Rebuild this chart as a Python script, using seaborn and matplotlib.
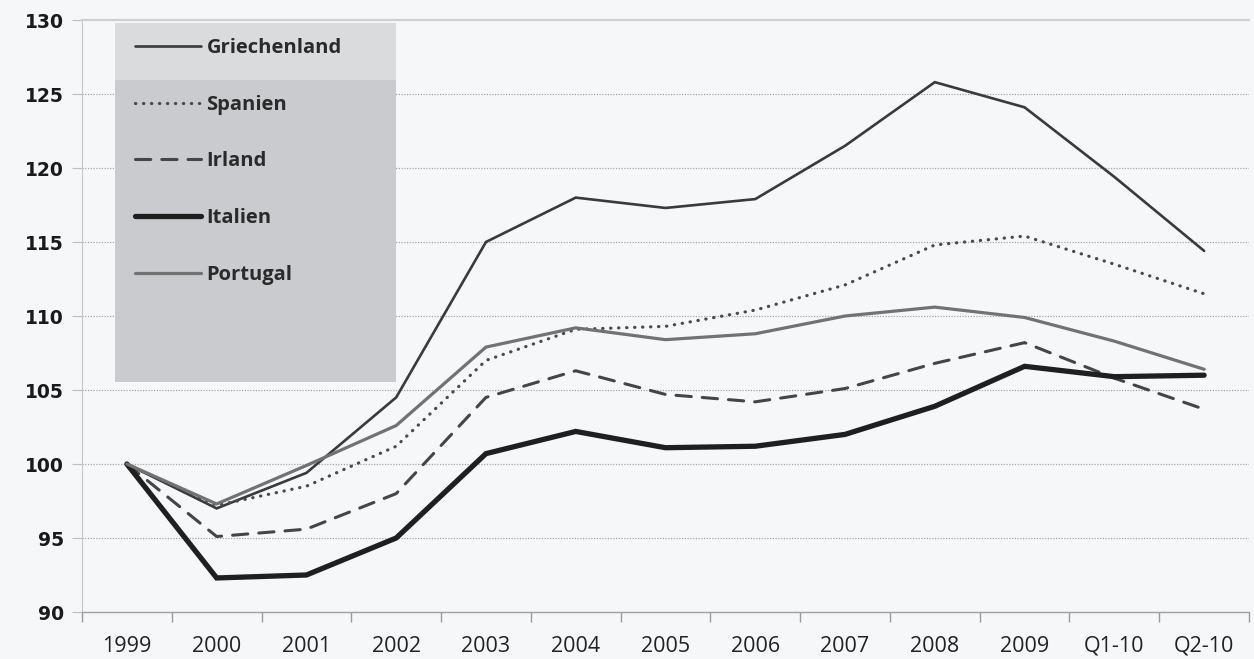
import numpy as np
import pandas as pd
import seaborn as sns
import matplotlib
matplotlib.use("Agg")
import matplotlib.pyplot as plt
from matplotlib.patches import Rectangle

# Index 1999 = 100
periods = ["1999", "2000", "2001", "2002", "2003", "2004", "2005",
           "2006", "2007", "2008", "2009", "Q1-10", "Q2-10"]
griechenland = [100.0, 97.0, 99.4, 104.5, 115.0, 118.0, 117.3, 117.9, 121.5, 125.8, 124.1, 119.4, 114.4]
spanien      = [100.0, 97.2, 98.5, 101.2, 107.0, 109.1, 109.3, 110.4, 112.1, 114.8, 115.4, 113.5, 111.5]
irland       = [100.0, 95.1, 95.6, 98.0, 104.5, 106.3, 104.7, 104.2, 105.1, 106.8, 108.2, 105.8, 103.7]
italien      = [100.0, 92.3, 92.5, 95.0, 100.7, 102.2, 101.1, 101.2, 102.0, 103.9, 106.6, 105.9, 106.0]
portugal     = [100.0, 97.3, 99.9, 102.6, 107.9, 109.2, 108.4, 108.8, 110.0, 110.6, 109.9, 108.3, 106.4]
y_ticks = [90, 95, 100, 105, 110, 115, 120, 125, 130]

series = {
    "Griechenland": griechenland,
    "Spanien": spanien,
    "Irland": irland,
    "Italien": italien,
    "Portugal": portugal,
}

styles = {
    "Griechenland": dict(color="#3a3a3a", lw=1.9, ls="-"),
    "Spanien": dict(color="#4a4a4a", lw=2.3, ls=(0, (0.1, 2.4))),
    "Irland": dict(color="#454545", lw=2.2, ls=(0, (5, 3.6))),
    "Italien": dict(color="#1f1f1f", lw=3.8, ls="-"),
    "Portugal": dict(color="#727272", lw=2.3, ls="-"),
}

bg = "#f6f7f8"
sns.set_theme(style="white")
plt.rcParams["font.family"] = ["Open Sans", "DejaVu Sans"]

fig = plt.figure(figsize=(12.54, 6.59), dpi=100, facecolor=bg)
ax = fig.add_axes([82 / 1254, 47 / 659, 1167 / 1254, 592 / 659])
ax.set_facecolor(bg)

x = np.arange(len(periods))
for name, vals in series.items():
    st = styles[name]
    sns.lineplot(x=x, y=vals, ax=ax, color=st["color"], linewidth=st["lw"],
                 linestyle=st["ls"], label=name, sort=False, zorder=3)
for line in ax.get_lines():
    line.set_dash_capstyle("round")
    line.set_solid_joinstyle("miter")

ax.set_xlim(-0.5, len(periods) - 0.5)
ax.set_ylim(90, 130)

# Category labels centred, tick marks on category boundaries
ax.set_xticks(x)
ax.set_xticklabels(periods, fontsize=15.5, color="#222222")
ax.set_xticks(np.arange(len(periods) + 1) - 0.5, minor=True)
ax.tick_params(axis="x", which="major", length=0, pad=17)
ax.tick_params(axis="x", which="minor", length=7, width=1, color="#9a9a9a", bottom=True)

ax.set_yticks(y_ticks)
ax.set_yticklabels([str(v) for v in y_ticks], fontsize=13.5, fontweight="bold",
                   color="#1a1a1a", family="DejaVu Sans")
ax.tick_params(axis="y", which="major", length=7, width=0.8, color="#bdbdbd", left=True, pad=6)

# Dotted horizontal gridlines
for v in y_ticks[1:-1]:
    ax.axhline(v, color="#a8a8a8", lw=0.9, ls=(0, (1, 1.2)), zorder=0.5)

ax.spines["right"].set_visible(False)
ax.spines["top"].set_color("#cfcfcf")
ax.spines["top"].set_linewidth(1.6)
ax.spines["left"].set_color("#c6c6c6")
ax.spines["left"].set_linewidth(0.8)
ax.spines["bottom"].set_color("#a0a0a0")
ax.spines["bottom"].set_linewidth(1.0)

# Shaded legend panel
ax.add_patch(Rectangle((0.0283, 0.3885), 0.2407, 0.510, transform=ax.transAxes,
                       facecolor="#c9cbce", edgecolor="none", zorder=1))
ax.add_patch(Rectangle((0.0283, 0.8986), 0.2407, 0.0964, transform=ax.transAxes,
                       facecolor="#d9dbdd", edgecolor="none", zorder=1))

handles, labels = ax.get_legend_handles_labels()
leg = ax.legend(handles, labels, loc="upper left", bbox_to_anchor=(0.0454, 0.970),
                frameon=False, borderpad=0, borderaxespad=0, handlelength=3.3,
                handletextpad=0.25, labelspacing=1.83,
                prop={"family": "Open Sans", "weight": "bold", "size": 14.5})
for t in leg.get_texts():
    t.set_color("#2a2a2a")
leg.set_zorder(4)

fig.savefig("out.png", dpi=100, facecolor=bg)
